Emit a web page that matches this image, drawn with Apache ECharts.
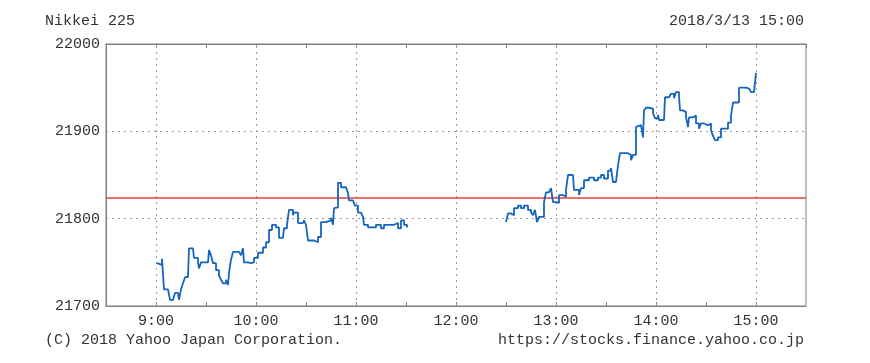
<!DOCTYPE html>
<html>
<head>
<meta charset="utf-8">
<script src="https://cdn.jsdelivr.net/npm/echarts@6/dist/echarts.min.js"></script>
<style>html,body{margin:0;padding:0;background:#fff}#c{width:870px;height:363px}</style>
</head>
<body>
<div id="c"></div>
<script>
// time = minutes since midnight
const morningTimes = [540.6,541.8,543.6,544.8,547.2,548.4,550.2,551.4,553.2,553.8,555,556.2,557.4,559.2,559.8,562.2,562.8,565.2,565.8,567,568.8,571.2,571.8,573,574.2,576,577.8,579,580.2,582,583.2,583.8,585,586.2,589.8,591,592.2,592.8,595.2,597,598.8,601.2,604.2,606,607.8,609.6,612,613.8,616.2,616.8,618.6,619.8,622.2,622.8,625.2,628.2,628.8,630,631.2,634.8,637.2,639,642,645,646.2,646.8,648,649.2,651,654,655.2,655.8,658.2,659.4,661.2,663,664.2,664.8,667.2,669,672,675,676.8,681,682.8,685.2,687,688.8,690.6];
const morningValues = [21749,21747,21754,21719,21717,21707,21706,21715,21713,21707,21719,21726,21733,21733,21766,21765,21755,21750,21743,21750,21750,21749,21764,21758,21749,21741,21735,21730,21726,21730,21724,21738,21753,21762,21762,21758,21766,21750,21749,21750,21755,21761,21767,21773,21787,21793,21790,21778,21778,21789,21793,21810,21804,21807,21795,21795,21798,21793,21775,21773,21779,21796,21798,21801,21793,21812,21813,21841,21836,21835,21829,21821,21821,21815,21807,21807,21802,21793,21790,21790,21793,21789,21793,21793,21795,21789,21798,21793,21790];
const afternoonTimes = [750,751.2,753,754.8,757.2,759,760.8,763.2,765,766.2,767.4,768.6,769.8,772.8,774,775.8,777,778.2,780,781.8,784.2,786,787.2,790.2,790.8,793.8,795,796.8,799.8,802.8,805.2,807,808.8,811.2,813,814.2,816,817.2,818.4,820.8,823.2,825,826.2,828,829.2,831,832.2,832.8,834,835.8,838.2,839.4,841.2,841.8,844.8,845.4,847.8,849,850.8,852,853.8,854.4,856.2,858,859.2,859.8,862.2,862.8,864,865.8,867,868.8,871.2,873,874.2,875.4,877.2,879,880.8,883.2,885,886.2,888,889.8,892.2,894,895.8,897,898.8,900];
const afternoonValues = [21796,21806,21804,21812,21815,21812,21815,21810,21807,21804,21810,21796,21802,21819,21830,21829,21835,21819,21818,21827,21825,21833,21850,21850,21833,21827,21835,21844,21847,21844,21847,21850,21846,21855,21858,21842,21842,21861,21875,21875,21873,21867,21873,21905,21907,21905,21893,21924,21927,21926,21921,21915,21919,21913,21913,21939,21939,21943,21938,21945,21941,21924,21922,21916,21905,21916,21915,21918,21909,21903,21909,21907,21909,21901,21895,21890,21893,21903,21903,21910,21918,21933,21933,21950,21950,21949,21950,21945,21947,21967];
const prevClose = 21824;
const hourTicks = [540,600,660,720,780,840,900];
const yTicks = [21700,21800,21900,22000];
const titleLeft = 'Nikkei 225';
const titleRight = '2018/3/13 15:00';
const footLeft = '(C) 2018 Yahoo Japan Corporation.';
const footRight = 'https://stocks.finance.yahoo.co.jp';

const FONT = '"Liberation Mono","DejaVu Sans Mono",monospace';
const TXT = '#333';
const chart = echarts.init(document.getElementById('c'), null, {renderer:'canvas'});
const toPairs = (t, v) => t.map((x, i) => [x, v[i]]);
const fmtTime = v => (v % 60 === 0) ? (Math.floor(v/60) + ':00') : '';
const xCommon = {
  type:'value', min:510, max:930, interval:30,
  axisLine:{show:true, lineStyle:{color:'#808080', width:1}},
  axisTick:{show:true, inside:true, length:4, lineStyle:{color:'#808080'}},
  splitLine:{show:false}
};
chart.setOption({
  animation:false,
  grid:{left:106, right:64, top:44, bottom:57, show:true, borderColor:'#808080', borderWidth:1},
  xAxis:[
    Object.assign({}, xCommon, {position:'bottom',
      axisLabel:{show:true, formatter:fmtTime, color:TXT, fontFamily:FONT, fontSize:15, margin:8, showMinLabel:false, showMaxLabel:false}}),
    Object.assign({}, xCommon, {position:'top', axisLabel:{show:false}})
  ],
  yAxis:{
    type:'value', min:yTicks[0], max:yTicks[yTicks.length-1], interval:100,
    axisLine:{show:true, lineStyle:{color:'#808080'}},
    axisTick:{show:false},
    axisLabel:{color:TXT, fontFamily:FONT, fontSize:15, margin:6, formatter: v => String(v)},
    splitLine:{show:true, lineStyle:{color:'#9a9a9a', type:[2,4], width:1}}
  },
  graphic:[
    {type:'text', left:45, top:14, style:{text:titleLeft, fill:TXT, font:'15px '+FONT}},
    {type:'text', right:66, top:14, style:{text:titleRight, fill:TXT, font:'15px '+FONT}},
    {type:'text', left:45, top:333, style:{text:footLeft, fill:TXT, font:'15px '+FONT}},
    {type:'text', right:66, top:333, style:{text:footRight, fill:TXT, font:'15px '+FONT}}
  ],
  series:[
    {type:'line', data:toPairs(morningTimes, morningValues), step:'end', showSymbol:false, z:5,
     lineStyle:{color:'#1565c0', width:1.8},
     markLine:{silent:true, symbol:'none', label:{show:false}, z:1,
       data: hourTicks.map(h => ({xAxis:h, lineStyle:{color:'#9a9a9a', type:[2,4], width:1}}))
         .concat([{yAxis:prevClose, lineStyle:{color:'#e0433a', type:'solid', width:1.5}}])}},
    {type:'line', data:toPairs(afternoonTimes, afternoonValues), step:'end', showSymbol:false, z:5,
     lineStyle:{color:'#1565c0', width:1.8}}
  ]
});
</script>
</body>
</html>
